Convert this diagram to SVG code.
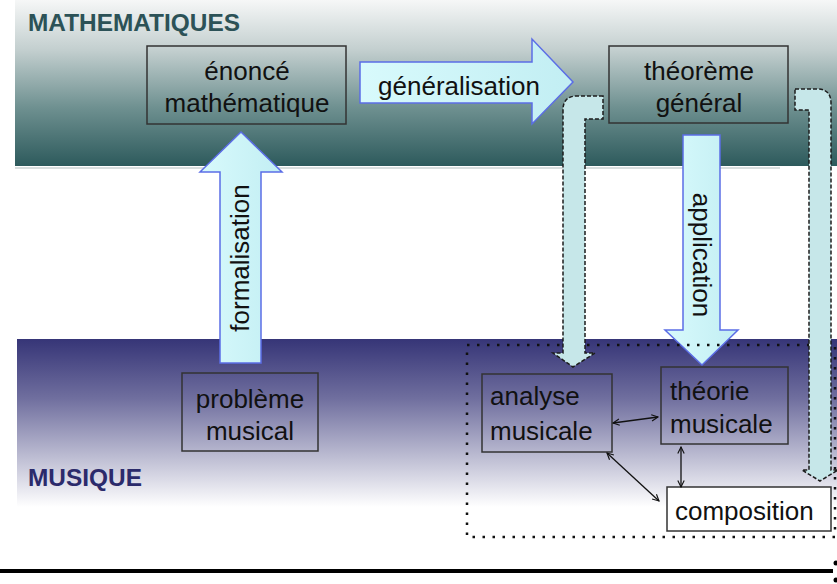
<svg xmlns="http://www.w3.org/2000/svg" width="837" height="584" viewBox="0 0 837 584">
  <defs>
    <linearGradient id="mathBand" x1="0" y1="0" x2="0" y2="1">
      <stop offset="0" stop-color="#f6f7f7"/>
      <stop offset="0.3" stop-color="#c3cfcf"/>
      <stop offset="0.65" stop-color="#6e9090"/>
      <stop offset="1" stop-color="#2d5a5c"/>
    </linearGradient>
    <linearGradient id="musicBand" x1="0" y1="0" x2="0" y2="1">
      <stop offset="0" stop-color="#363577"/>
      <stop offset="0.35" stop-color="#6f6e9e"/>
      <stop offset="0.7" stop-color="#bcbcd2"/>
      <stop offset="1" stop-color="#ffffff"/>
    </linearGradient>
    <linearGradient id="solidFill" x1="0" y1="0" x2="1" y2="0">
      <stop offset="0" stop-color="#d8fafc"/>
      <stop offset="1" stop-color="#c2eef3"/>
    </linearGradient>
    <marker id="tip" viewBox="0 0 10 10" refX="9" refY="5" markerWidth="8" markerHeight="8" markerUnits="userSpaceOnUse" orient="auto-start-reverse">
      <path d="M1,1 L9,5 L1,9" fill="none" stroke="#111" stroke-width="1.4"/>
    </marker>
    <style>
      .box { fill: none; stroke: #333; stroke-width: 1.5; }
      .lbl { font-family: "Liberation Sans", Arial, sans-serif; font-size: 26px; fill: #111; }
      .mid { text-anchor: middle; }
      .band { font-family: "Liberation Sans", Arial, sans-serif; font-weight: bold; font-size: 23px; }
      .solid { fill: url(#solidFill); stroke: #5b6de6; stroke-width: 1.5; stroke-linejoin: miter; }
      .dashed { fill: #c6e7e9; stroke: #1c1c1c; stroke-width: 1.5; stroke-dasharray: 4 2; }
      .link { fill: none; stroke: #111; stroke-width: 1.3; marker-start: url(#tip); marker-end: url(#tip); }
    </style>
  </defs>

  <!-- background bands -->
  <rect x="15" y="0" width="822" height="166" fill="url(#mathBand)"/>
  <rect x="15" y="167" width="765" height="2" fill="#d9dede"/>
  <rect x="17" y="339" width="820" height="168" fill="url(#musicBand)"/>
  <text class="band" x="28" y="31" fill="#2c5257" textLength="212" lengthAdjust="spacingAndGlyphs">MATHEMATIQUES</text>
  <text class="band" x="28" y="486" fill="#2b2a6b" textLength="114" lengthAdjust="spacingAndGlyphs">MUSIQUE</text>

  <!-- nodes -->
  <g id="enonce">
    <rect class="box" x="147" y="46" width="199" height="78"/>
    <text class="lbl mid" x="247" y="80">énoncé</text>
    <text class="lbl mid" x="247" y="112">mathématique</text>
  </g>
  <g id="theoreme">
    <rect class="box" x="609" y="46" width="179" height="77"/>
    <text class="lbl mid" x="699" y="80">théorème</text>
    <text class="lbl mid" x="699" y="112">général</text>
  </g>
  <g id="probleme">
    <rect class="box" x="182" y="373" width="136" height="78"/>
    <text class="lbl mid" x="250" y="408">problème</text>
    <text class="lbl mid" x="250" y="440">musical</text>
  </g>
  <g id="analyse">
    <rect class="box" x="482" y="374" width="130" height="78"/>
    <text class="lbl" x="490" y="405">analyse</text>
    <text class="lbl" x="490" y="440">musicale</text>
  </g>
  <g id="theorie">
    <rect class="box" x="661" y="367" width="127" height="77"/>
    <text class="lbl" x="670" y="400">théorie</text>
    <text class="lbl" x="670" y="433">musicale</text>
  </g>
  <g id="composition">
    <rect class="box" x="667" y="487" width="164" height="44" style="fill:#ffffff"/>
    <text class="lbl" x="675" y="520">composition</text>
  </g>

  <!-- connectors -->
  <g id="connectors">
    <!-- formalisation -->
    <path class="solid" d="M220,363 L220,172 L200,172 L241,132 L282,172 L261,172 L261,363 Z"/>
    <text class="lbl mid" transform="translate(241,258) rotate(-90)" y="8">formalisation</text>
    <!-- généralisation -->
    <path class="solid" d="M360,62 L532,62 L532,39 L573,82 L532,124 L532,103 L360,103 Z"/>
    <text class="lbl mid" x="459" y="95">généralisation</text>
    <!-- application -->
    <path class="solid" d="M683,135 L720,135 L720,330 L738,330 L702,365 L665,330 L683,330 Z"/>
    <text class="lbl mid" transform="translate(701,255) rotate(90)" y="8">application</text>

    <!-- musical group frame -->
    <rect x="467" y="345" width="368" height="192" fill="none" stroke="#111" stroke-width="2.5" stroke-dasharray="2.5 7.5"/>

    <!-- theorem to analysis -->
    <path class="dashed" d="M603,96 L577,96 Q563,96 563,110 L563,353 L553,353 L573,367 L595,353 L585,353 L585,119 L603,119 Z"/>
    <!-- theorem to composition -->
    <path class="dashed" d="M795,89 L817,89 Q831,89 831,103 L831,470 L838,470 L820,481 L802,470 L809,470 L809,110 L795,110 Z"/>

    <!-- links inside the musical group -->
    <line class="link" x1="613" y1="423" x2="658" y2="417"/>
    <line class="link" x1="607" y1="453" x2="659" y2="501"/>
    <line class="link" x1="681" y1="447" x2="681" y2="487"/>
  </g>

  <!-- base rule -->
  <rect x="0" y="569" width="833" height="4" fill="#000"/>
  <circle cx="836" cy="563" r="2.5" fill="#000"/>
  <circle cx="836" cy="580" r="2.5" fill="#000"/>
</svg>
